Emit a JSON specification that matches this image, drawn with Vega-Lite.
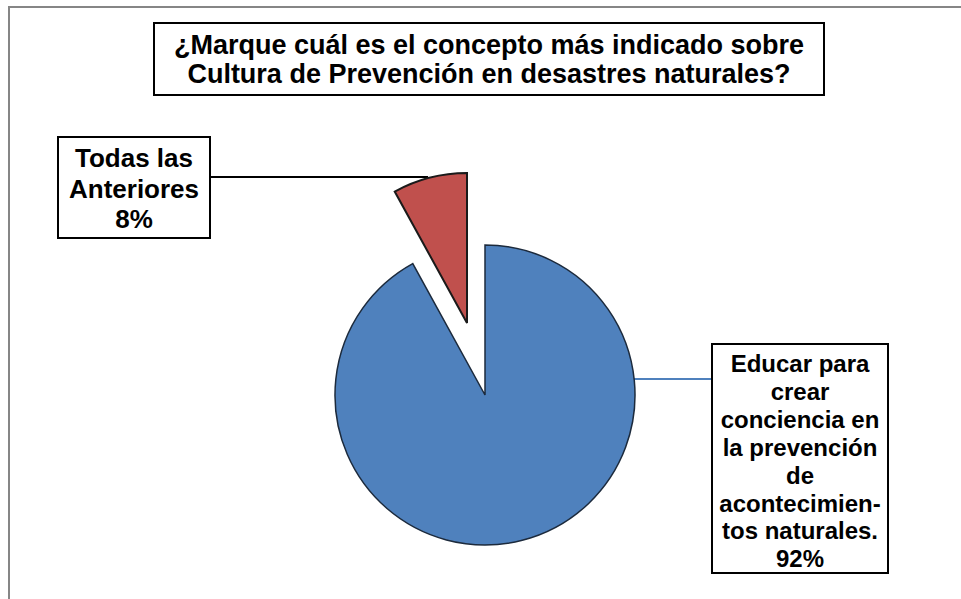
{
  "$schema": "https://vega.github.io/schema/vega-lite/v6.json",
  "width": 961,
  "height": 599,
  "autosize": {"type": "fit", "contains": "padding"},
  "padding": 0,
  "background": "white",
  "config": {"view": {"stroke": null}},
  "data": {
    "values": [
      {"category": "Educar para crear conciencia en la prevención de acontecimientos naturales.", "value": 92, "label": "Educar para|crear|conciencia en|la prevención|de|acontecimien-|tos naturales.|92%"},
      {"category": "Todas las Anteriores", "value": 8, "label": "Todas las|Anteriores|8%"}
    ]
  },
  "transform": [
    {"stack": "value", "groupby": [], "as": ["v0", "v1"], "sort": [{"field": "value", "order": "descending"}]}
  ],
  "layer": [
    {
      "data": {"values": [{}]},
      "mark": {"type": "rect", "x": 9, "y": 7, "x2": 1000, "y2": 700, "fill": null, "fillOpacity": 0, "stroke": "#868686", "strokeWidth": 2},
      "encoding": {}
    },
    {
      "data": {"values": [{}]},
      "mark": {"type": "rect", "x": 154, "y": 23, "x2": 824, "y2": 95, "fill": "white", "stroke": "black", "strokeWidth": 2},
      "encoding": {}
    },
    {
      "data": {"values": [{}]},
      "mark": {"type": "text", "x": 489, "y": 54, "align": "center", "baseline": "alphabetic", "font": "Liberation Sans", "fontWeight": "bold", "fontSize": 27, "lineHeight": 28.5, "color": "black",
        "text": ["¿Marque cuál es el concepto más indicado sobre", "Cultura de Prevención en desastres naturales?"]},
      "encoding": {}
    },
    {
      "data": {"values": [{}]},
      "mark": {"type": "rule", "stroke": "black", "strokeWidth": 2},
      "encoding": {
        "x": {"value": 210}, "x2": {"value": 428},
        "y": {"value": 177}, "y2": {"value": 177}
      }
    },
    {
      "data": {"values": [{}]},
      "mark": {"type": "rule", "stroke": "#4F81BD", "strokeWidth": 2},
      "encoding": {
        "x": {"value": 634}, "x2": {"value": 712},
        "y": {"value": 379}, "y2": {"value": 379}
      }
    },
    {
      "transform": [{"filter": "datum.value == 92"}],
      "mark": {"type": "arc", "x": 485, "y": 395, "radius": 150, "stroke": "#1c2a3c", "strokeWidth": 1.5, "fill": "#4F81BD"},
      "encoding": {
        "theta": {"field": "v0", "type": "quantitative", "scale": {"domain": [0, 100]}},
        "theta2": {"field": "v1"}
      }
    },
    {
      "transform": [{"filter": "datum.value == 8"}],
      "mark": {"type": "arc", "x": 467, "y": 323, "radius": 150, "stroke": "#1a1a1a", "strokeWidth": 2, "fill": "#C0504D"},
      "encoding": {
        "theta": {"field": "v0", "type": "quantitative", "scale": {"domain": [0, 100]}},
        "theta2": {"field": "v1"}
      }
    },
    {
      "data": {"values": [{}]},
      "mark": {"type": "rect", "x": 58, "y": 137, "x2": 210, "y2": 238, "fill": "white", "stroke": "black", "strokeWidth": 2},
      "encoding": {}
    },
    {
      "data": {"values": [{}]},
      "mark": {"type": "rect", "x": 712, "y": 344, "x2": 888, "y2": 573, "fill": "white", "stroke": "black", "strokeWidth": 2},
      "encoding": {}
    },
    {
      "transform": [{"filter": "datum.value == 8"}],
      "mark": {"type": "text", "x": 134, "y": 167, "align": "center", "baseline": "alphabetic", "font": "Liberation Sans", "fontWeight": "bold", "fontSize": 26, "lineHeight": 30.5, "lineBreak": "|", "color": "black"},
      "encoding": {"text": {"field": "label"}}
    },
    {
      "transform": [{"filter": "datum.value == 92"}],
      "mark": {"type": "text", "x": 800, "y": 372, "align": "center", "baseline": "alphabetic", "font": "Liberation Sans", "fontWeight": "bold", "fontSize": 24, "lineHeight": 27.9, "lineBreak": "|", "color": "black"},
      "encoding": {"text": {"field": "label"}}
    }
  ]
}
